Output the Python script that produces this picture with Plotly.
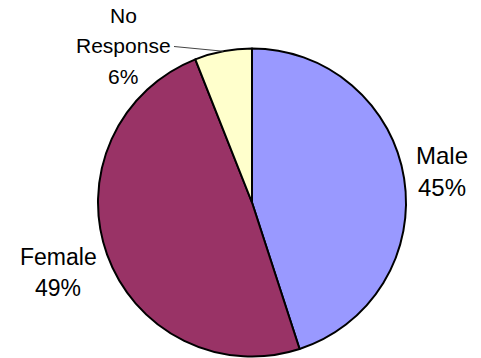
import math
import plotly.graph_objects as go

# Survey responses by gender
categories = ["Male", "Female", "No Response"]
values = [45, 49, 6]
colors = ["#9999FF", "#993366", "#FFFFCC"]

W, H = 481, 358
cx, cy, r = 252, 202.5, 154  # pie centre and radius in pixels

def px_x(x):
    return x / W

def px_y(y):
    return 1 - y / H

fig = go.Figure(
    go.Pie(
        labels=categories,
        values=values,
        sort=False,
        direction="clockwise",
        rotation=0,
        marker=dict(colors=colors, line=dict(color="black", width=2)),
        textinfo="none",
        hoverinfo="label+percent",
        showlegend=False,
        domain=dict(x=[px_x(cx - r), px_x(cx + r)], y=[px_y(cy + r), px_y(cy - r)]),
    )
)

total = sum(values)
pct = [f"{round(100 * v / total)}%" for v in values]

# label lines: (centre x, first line centre y, font size, line spacing)
label_layout = {
    "Male": (442, 155, 24, 32),
    "Female": (58, 257, 23, 31),
    "No Response": (123, 15, 21, 30.5),
}

annotations = []
for name, p in zip(categories, pct):
    x0, y0, size, step = label_layout[name]
    lines = name.split(" ") + [p] if name == "No Response" else [name, p]
    for i, line in enumerate(lines):
        annotations.append(
            dict(
                x=px_x(x0), y=px_y(y0 + i * step), xref="paper", yref="paper",
                text=line, showarrow=False, xanchor="center", yanchor="middle",
                font=dict(family="Arial, Liberation Sans", size=size, color="black"),
            )
        )

# leader line from the "No Response" label to the middle of its slice
start_deg = sum(values[:2]) / total * 360
mid_deg = start_deg + values[2] / total * 360 / 2
ex = cx + r * math.sin(math.radians(mid_deg))
ey = cy - r * math.cos(math.radians(mid_deg))
shapes = [
    dict(type="line", xref="paper", yref="paper",
         x0=px_x(174), y0=px_y(46.5), x1=px_x(ex), y1=px_y(ey),
         line=dict(color="#444444", width=1))
]

fig.update_layout(
    width=W, height=H,
    margin=dict(l=0, r=0, t=0, b=0),
    paper_bgcolor="white", plot_bgcolor="white",
    annotations=annotations, shapes=shapes,
)

fig.write_html("out.html")
